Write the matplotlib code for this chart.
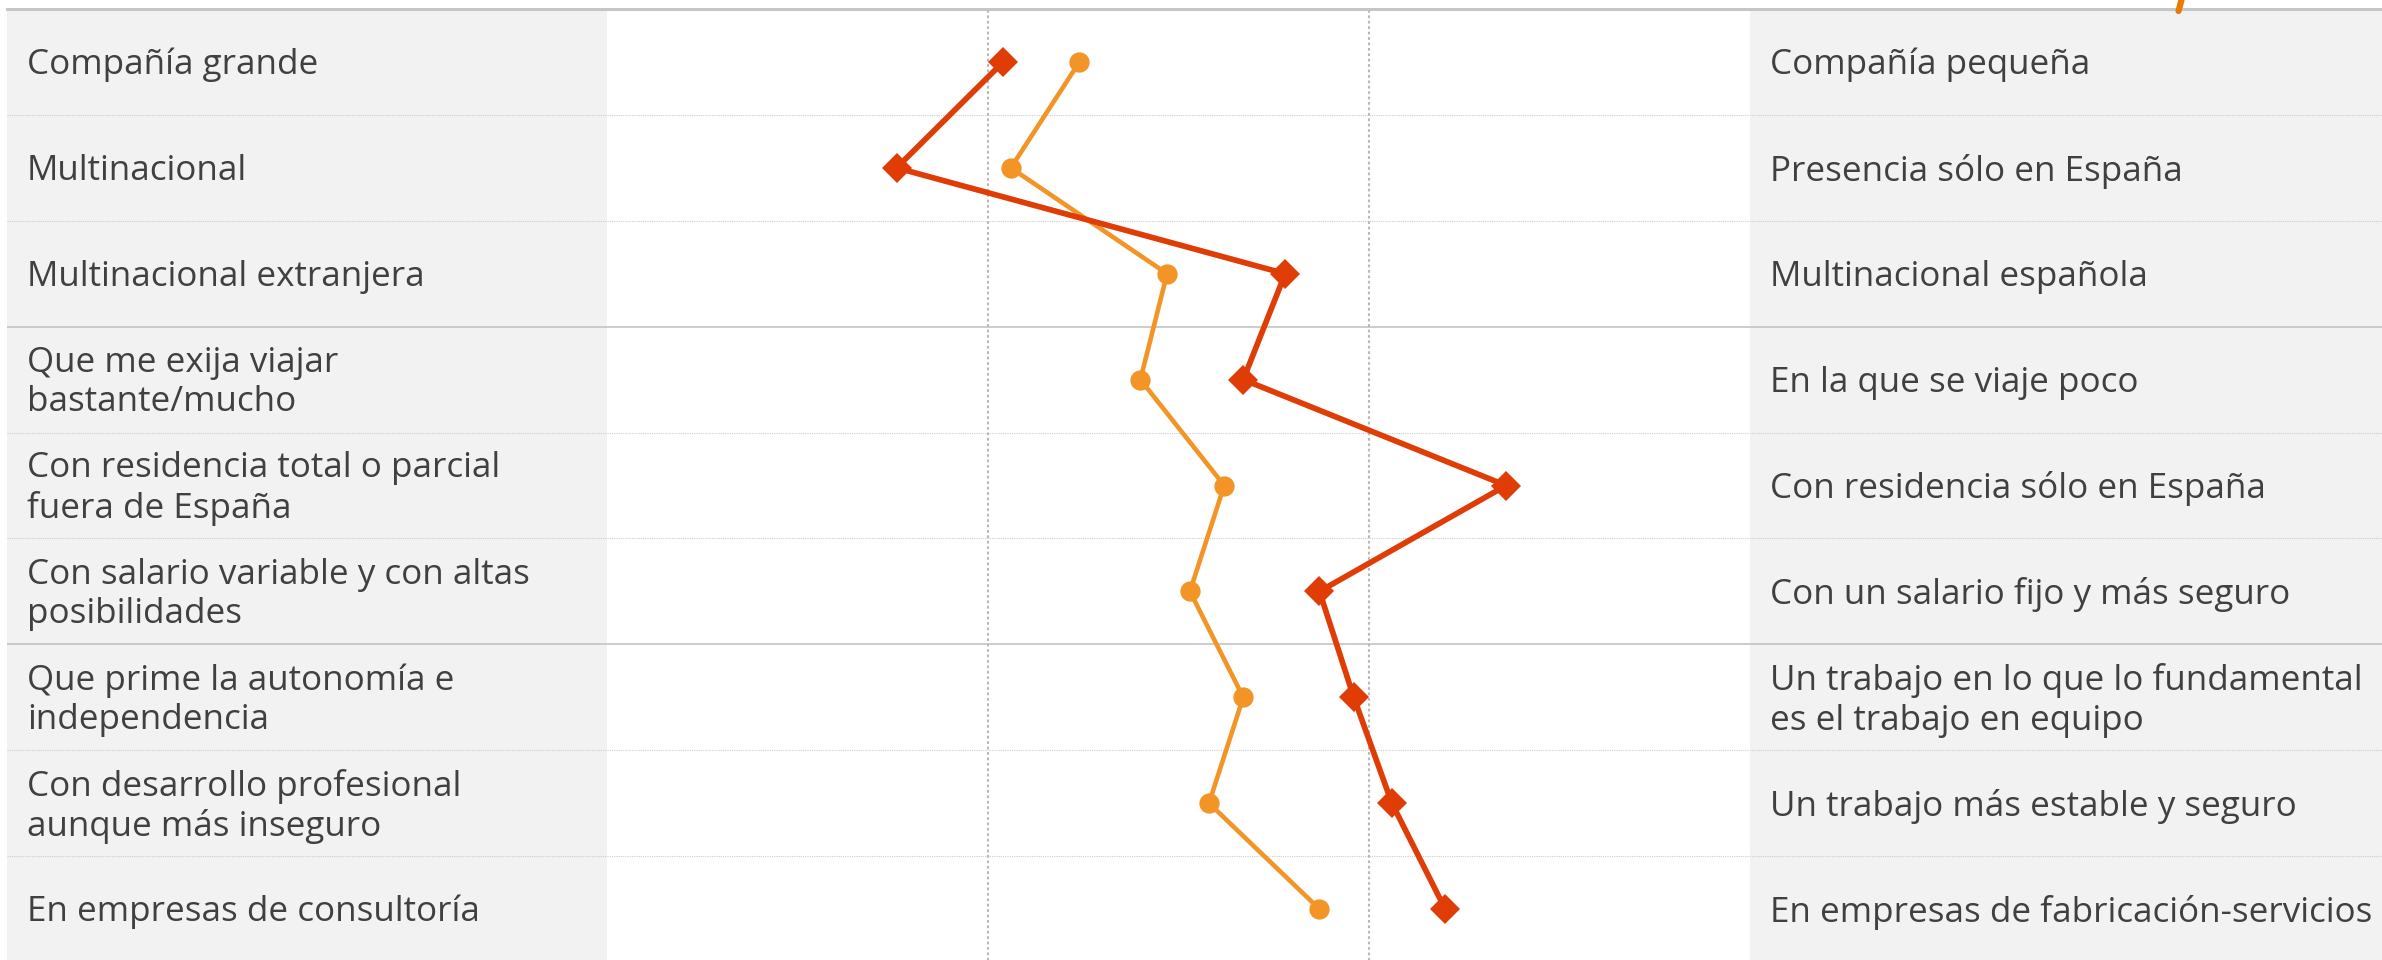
import matplotlib
matplotlib.use("Agg")
import matplotlib.pyplot as plt
from matplotlib.lines import Line2D

# ---------------- data ----------------
left_labels = [
    "Compañía grande",
    "Multinacional",
    "Multinacional extranjera",
    "Que me exija viajar\nbastante/mucho",
    "Con residencia total o parcial\nfuera de España",
    "Con salario variable y con altas\nposibilidades",
    "Que prime la autonomía e\nindependencia",
    "Con desarrollo profesional\naunque más inseguro",
    "En empresas de consultoría",
]
right_labels = [
    "Compañía pequeña",
    "Presencia sólo en España",
    "Multinacional española",
    "En la que se viaje poco",
    "Con residencia sólo en España",
    "Con un salario fijo y más seguro",
    "Un trabajo en lo que lo fundamental\nes el trabajo en equipo",
    "Un trabajo más estable y seguro",
    "En empresas de fabricación-servicios",
]
serie_roja = [2.04, 1.76, 2.78, 2.67, 3.36, 2.87, 2.96, 3.06, 3.20]
serie_naranja = [2.24, 2.06, 2.47, 2.40, 2.62, 2.53, 2.67, 2.58, 2.87]

# ---------------- style ----------------
W, H, DPI = 2382, 960, 100
RED = "#DF3C06"
ORANGE = "#F29426"
PANEL = "#F2F2F2"
TEXT = "#404040"
FONT = ["Open Sans", "DejaVu Sans"]
FS = 25.2

SCALE_MIN, SCALE_MAX = 1.0, 4.0
PX_UNIT = 381.0                   # pixels per scale unit
LEFT_PANEL_PX, RIGHT_PANEL_PX = 600.0, 632.0
x_left = SCALE_MIN - LEFT_PANEL_PX / PX_UNIT
x_right = SCALE_MAX + RIGHT_PANEL_PX / PX_UNIT
n = len(left_labels)

fig = plt.figure(figsize=(W / DPI, H / DPI), dpi=DPI)
fig.patch.set_facecolor("white")
ax = fig.add_axes([7 / W, -2 / H, (W - 7) / W, 953 / H])
ax.set_xlim(x_left, x_right)
ax.set_ylim(n, 0)
ax.axis("off")

# side panels
ax.axvspan(x_left, SCALE_MIN, color=PANEL, zorder=0, lw=0)
ax.axvspan(SCALE_MAX, x_right, color=PANEL, zorder=0, lw=0)

# horizontal separators
for i in range(1, n):
    if i % 3 == 0:
        ax.axhline(i, color="#C4C4C4", lw=1.2, zorder=1)
    else:
        ax.axhline(i, color="#CDCDCD", lw=0.8, ls=(0, (1, 1)), zorder=1)
ax.axhline(0, color="#C6C6C6", lw=2.2, zorder=3, clip_on=False)

# vertical dotted gridlines
for gx in (2, 3):
    ax.plot([gx, gx], [0.01, n], color="#B8B8B8", lw=1.5,
            ls=(0, (1.3, 1.3)), zorder=1, clip_on=False)

ys = [i + 0.5 for i in range(n)]
ax.plot(serie_naranja, ys, color=ORANGE, lw=3.3, marker="o", ms=14.6,
        mew=0, zorder=4)
ax.plot(serie_roja, ys, color=RED, lw=4.1, marker="D", ms=14.8,
        mew=0, zorder=5)

# labels
tx_left = x_left + 20 / PX_UNIT
tx_right = SCALE_MAX + 19.5 / PX_UNIT
dy = 0.03
for y, lt, rt in zip(ys, left_labels, right_labels):
    ax.text(tx_left, y + dy, lt, ha="left", va="center", fontsize=FS,
            color=TEXT, family=FONT, linespacing=1.2)
    ax.text(tx_right, y + dy, rt, ha="left", va="center", fontsize=FS,
            color=TEXT, family=FONT, linespacing=1.2)

# cropped orange stroke at the top edge
fig.add_artist(Line2D([2181.5 / W, 2178.5 / W], [1.0, 1 - 11 / H],
                      transform=fig.transFigure, color="#EA7A06", lw=4.5,
                      solid_capstyle="round", zorder=10))

fig.savefig("out.png", dpi=DPI)
